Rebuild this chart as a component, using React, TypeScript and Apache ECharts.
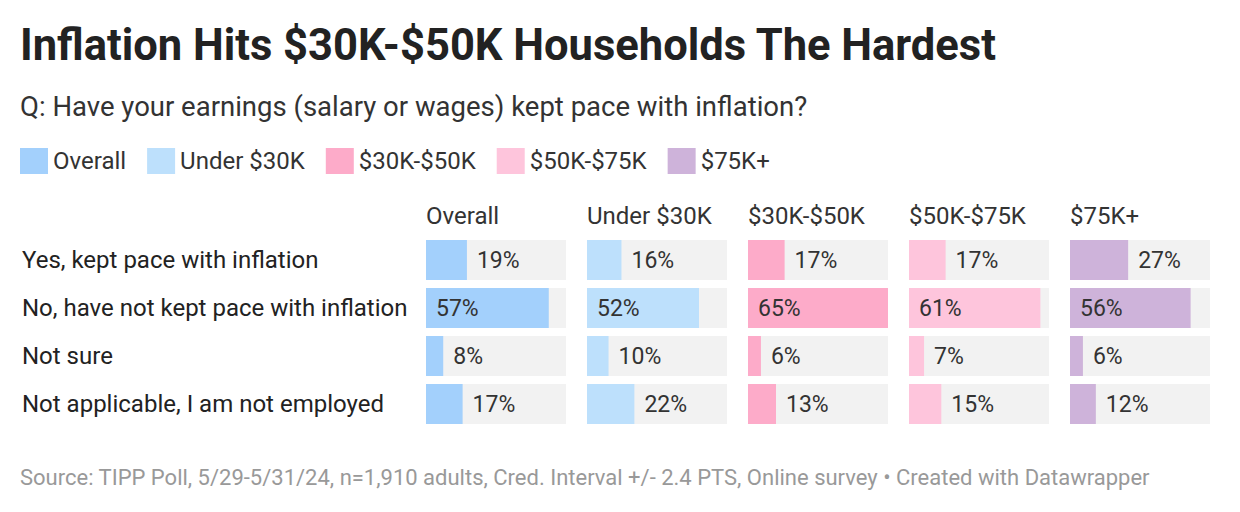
import React, { useEffect, useRef } from "react";
import * as echarts from "echarts";

const categories = [
  "Yes, kept pace with inflation",
  "No, have not kept pace with inflation",
  "Not sure",
  "Not applicable, I am not employed",
];
const groups = ["Overall", "Under $30K", "$30K-$50K", "$50K-$75K", "$75K+"];
const overall = [19, 57, 8, 17];
const under30 = [16, 52, 10, 22];
const k30to50 = [17, 65, 6, 13];
const k50to75 = [17, 61, 7, 15];
const k75plus = [27, 56, 6, 12];
const colors = ["#a3d0fc", "#bde0fc", "#fdabc9", "#fec5dc", "#ceb3da"];

const FONT = "Roboto";

export default function App() {
  const ref = useRef<HTMLDivElement>(null);
  useEffect(() => {
    if (!ref.current) return;
    const chart = echarts.init(ref.current, null, { renderer: "svg" });
    const values = [overall, under30, k30to50, k50to75, k75plus];
    const maxV = Math.max(...values.flat());
    const panelLeft = 426;
    const panelStep = 161;
    const panelW = 140;
    const grids = groups.map((_, i) => ({
      left: panelLeft + i * panelStep,
      width: panelW,
      top: 236,
      height: 192,
    }));
    const xAxes = groups.map((_, i) => ({
      type: "value",
      gridIndex: i,
      min: 0,
      max: maxV,
      show: false,
    }));
    const yAxes = groups.map((_, i) => ({
      type: "category",
      gridIndex: i,
      data: categories,
      inverse: true,
      axisLine: { show: false },
      axisTick: { show: false },
      axisLabel: {
        show: i === 0,
        align: "left",
        margin: panelLeft - 22,
        fontFamily: FONT,
        fontSize: 24,
        color: "#222",
      },
    }));
    const series = groups.map((g, i) => ({
      type: "bar",
      name: g,
      xAxisIndex: i,
      yAxisIndex: i,
      barWidth: 40,
      itemStyle: { color: colors[i] },
      showBackground: true,
      backgroundStyle: { color: "#f2f2f2" },
      data: values[i].map((v) => ({
        value: v,
        label: {
          show: true,
          position: v >= 30 ? "insideLeft" : "right",
          distance: 10,
          formatter: "{c}%",
          fontFamily: FONT,
          fontSize: 23,
          color: "#333",
        },
      })),
    }));
    const txt = (text: string, x: number, y: number, fontSize: number, color: string, fontWeight = "normal") => ({
      type: "text",
      x,
      y,
      silent: true,
      style: {
        text,
        x: 0,
        y: 0,
        fontFamily: FONT,
        fontSize,
        fontWeight,
        fill: color,
        align: "left",
        verticalAlign: "middle",
      },
    });
    const graphics: any[] = [
      txt("Inflation Hits $30K-$50K Households The Hardest", 20, 45, 43.5, "#222", "bold"),
      txt("Q: Have your earnings (salary or wages) kept pace with inflation?", 20, 106, 27.5, "#333"),
      txt(
        "Source: TIPP Poll, 5/29-5/31/24, n=1,910 adults, Cred. Interval +/- 2.4 PTS, Online survey • Created with Datawrapper",
        20,
        477,
        22,
        "#999"
      ),
      ...groups.map((g, i) => txt(g, panelLeft + i * panelStep, 216, 24, "#333")),
    ];
    chart.setOption({
      animation: false,
      legend: {
        left: 20,
        top: 148,
        padding: 0,
        icon: "rect",
        itemWidth: 28,
        itemHeight: 26,
        itemGap: 21,
        selectedMode: false,
        data: groups,
        textStyle: { fontFamily: FONT, fontSize: 24, color: "#333" },
      },
      grid: grids,
      xAxis: xAxes,
      yAxis: yAxes,
      series,
      graphic: graphics,
    });
    return () => chart.dispose();
  }, []);
  return (
    <div
      ref={ref}
      style={{ position: "fixed", left: 0, top: 0, width: 1240, height: 512, background: "#fff" }}
    />
  );
}
